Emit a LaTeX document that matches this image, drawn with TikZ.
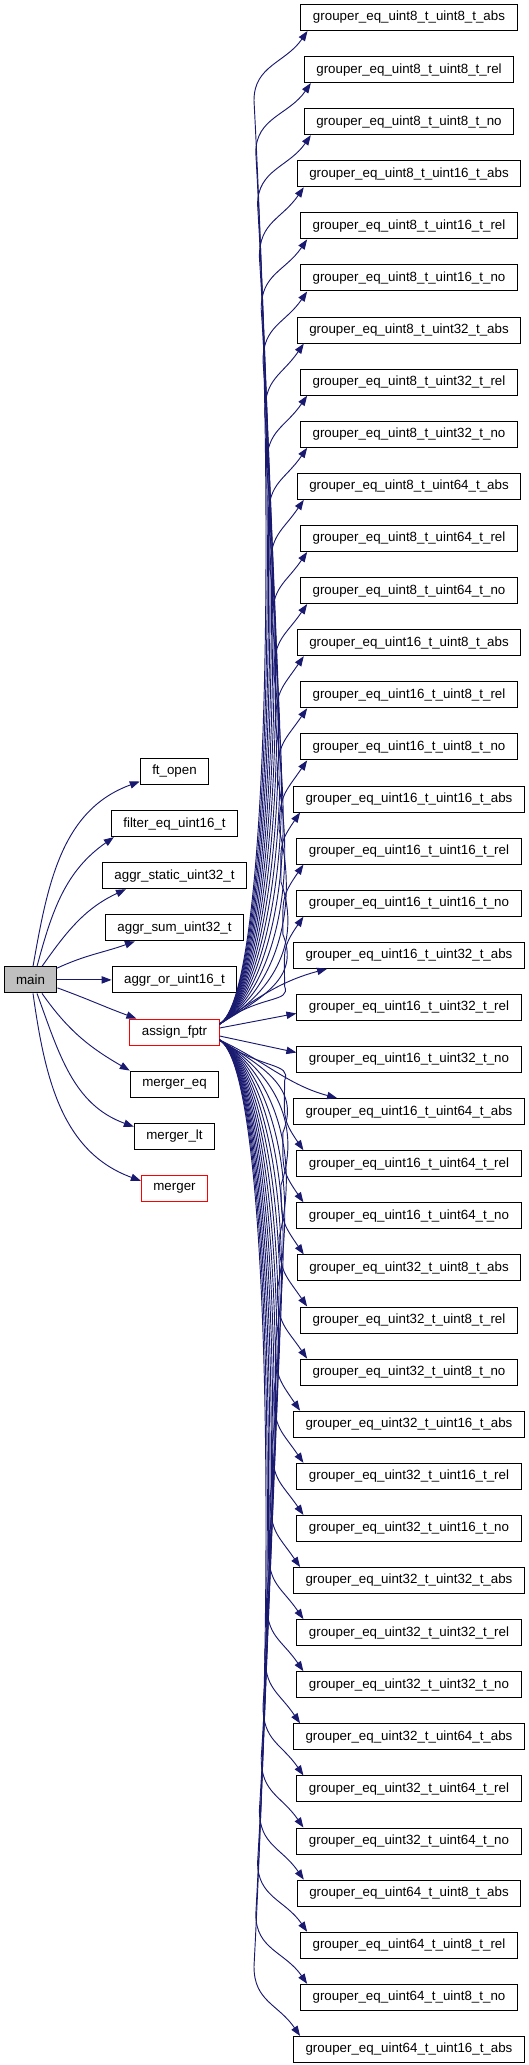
\documentclass[tikz,border=0pt]{standalone}
\usepackage{fontspec}
\setmainfont{Liberation Sans}
\usetikzlibrary{calc, arrows.meta}

\definecolor{edgeblue}{HTML}{191970}
\definecolor{mainfill}{HTML}{BFBFBF}
\tikzset{
    fn/.style={draw=black, line width=0.75pt, minimum height=19.5pt, inner xsep=9pt, inner ysep=0pt, font=\fontsize{10pt}{12pt}\selectfont},
    fnred/.style={fn, draw=red},
    call/.style={draw=edgeblue, line width=0.7pt, -{Triangle[length=7.5pt,width=5.5pt]}}
}

\begin{document}
\begin{tikzpicture}[x=0.75pt, y=0.75pt]
            \useasboundingbox (0,0) rectangle (528,-2065);
            % caller and its callees
            \node[fn, fill=mainfill] (main) at (30.5,-979.9) {main};
            \node[fn] (ftopen) at (174.5,-771.5) {ft\_open};
            \node[fn] (filter) at (174.5,-823.6) {filter\_eq\_uint16\_t};
            \node[fn] (aggrstatic) at (174.5,-875.7) {aggr\_static\_uint32\_t};
            \node[fn] (aggrsum) at (174.5,-927.8) {aggr\_sum\_uint32\_t};
            \node[fn] (aggror) at (174.5,-979.9) {aggr\_or\_uint16\_t};
            \node[fnred] (assign) at (174.5,-1032) {assign\_fptr};
            \node[fn] (mergereq) at (174.5,-1084.1) {merger\_eq};
            \node[fn] (mergerlt) at (174.5,-1136.2) {merger\_lt};
            \node[fnred] (merger) at (174.5,-1188.3) {merger};
            % groupers called from assign_fptr
            \foreach \nm [count=\i from 0] in {
                uint8\_t\_uint8\_t\_abs, uint8\_t\_uint8\_t\_rel, uint8\_t\_uint8\_t\_no,
                uint8\_t\_uint16\_t\_abs, uint8\_t\_uint16\_t\_rel, uint8\_t\_uint16\_t\_no,
                uint8\_t\_uint32\_t\_abs, uint8\_t\_uint32\_t\_rel, uint8\_t\_uint32\_t\_no,
                uint8\_t\_uint64\_t\_abs, uint8\_t\_uint64\_t\_rel, uint8\_t\_uint64\_t\_no,
                uint16\_t\_uint8\_t\_abs, uint16\_t\_uint8\_t\_rel, uint16\_t\_uint8\_t\_no,
                uint16\_t\_uint16\_t\_abs, uint16\_t\_uint16\_t\_rel, uint16\_t\_uint16\_t\_no,
                uint16\_t\_uint32\_t\_abs, uint16\_t\_uint32\_t\_rel, uint16\_t\_uint32\_t\_no,
                uint16\_t\_uint64\_t\_abs, uint16\_t\_uint64\_t\_rel, uint16\_t\_uint64\_t\_no,
                uint32\_t\_uint8\_t\_abs, uint32\_t\_uint8\_t\_rel, uint32\_t\_uint8\_t\_no,
                uint32\_t\_uint16\_t\_abs, uint32\_t\_uint16\_t\_rel, uint32\_t\_uint16\_t\_no,
                uint32\_t\_uint32\_t\_abs, uint32\_t\_uint32\_t\_rel, uint32\_t\_uint32\_t\_no,
                uint32\_t\_uint64\_t\_abs, uint32\_t\_uint64\_t\_rel, uint32\_t\_uint64\_t\_no,
                uint64\_t\_uint8\_t\_abs, uint64\_t\_uint8\_t\_rel, uint64\_t\_uint8\_t\_no,
                uint64\_t\_uint16\_t\_abs}
                \node[fn] (g\i) at (409,{-17.5-52.1*\i}) {grouper\_eq\_\nm};
            % calls from main
            \draw[call] ($(main.north)+(2.5,0)$) to[out=80,in=200] ($(ftopen.west)+(0,-10)$);
            \draw[call] ($(main.north)+(6.5,0)$) to[out=75,in=215] ($(filter.south west)+(3,0)$);
            \draw[call] ($(main.north)+(11.5,0)$) to[out=55,in=205] ($(aggrstatic.south west)+(24,0)$);
            \draw[call] ($(main.north east)+(-1,-2)$) to[out=25,in=200] ($(aggrsum.south west)+(30,0)$);
            \draw[call] (main.east) -- (aggror.west);
            \draw[call] ($(main.east)+(0,-8)$) to[out=-20,in=160] ($(assign.north west)+(7,0)$);
            \draw[call] ($(main.south)+(11.5,0)$) to[out=-55,in=150] (mergereq.north west);
            \draw[call] ($(main.south)+(6.5,0)$) to[out=-70,in=160] ($(mergerlt.north west)+(0,-4)$);
            \draw[call] ($(main.south)+(2.5,0)$) to[out=-82,in=160] ($(merger.north west)+(0,-6)$);
            % calls from assign_fptr, upwards
            \foreach \i in {0,...,17}{
                \pgfmathsetmacro\bx{254+1.8*\i}
                \pgfmathsetmacro\wy{-17.5-52.1*\i-13-70}
                \pgfmathsetmacro\ll{0.45*(\wy+1024)}
                \pgfmathsetmacro\dx{min(22,0.4*\ll)}
                \pgfmathsetmacro\cx{min(50,1.5*\ll+15)}
                \draw[call] ($(assign.east)+(0,8)$) .. controls +(\cx,30) and +(\dx,-\ll) .. (\bx,\wy)
                    .. controls +(0,35) and +(-22,-32) .. ($(g\i.south west)+(7,0)$);
            }
            \draw[call] ($(assign.east)+(0,8)$) to[out=35,in=195] ($(g18.south west)+(34,0)$);
            \draw[call] ($(assign.east)+(0,4)$) -- ($(g19.west)+(0,-6)$);
            \draw[call] ($(assign.east)+(0,-4)$) -- ($(g20.west)+(0,7)$);
            \draw[call] ($(assign.east)+(0,-8)$) to[out=-25,in=165] ($(g21.north west)+(44,0)$);
            % calls from assign_fptr, downwards
            \foreach \i in {22,...,39}{
                \pgfmathsetmacro\bx{254+1.8*(39-\i)}
                \pgfmathsetmacro\wy{-17.5-52.1*\i+13+70}
                \pgfmathsetmacro\ll{0.45*(-1040-\wy)}
                \pgfmathsetmacro\dx{min(22,0.4*\ll)}
                \pgfmathsetmacro\cx{min(50,1.5*\ll+15)}
                \draw[call] ($(assign.east)+(0,-8)$) .. controls +(\cx,-30) and +(\dx,\ll) .. (\bx,\wy)
                    .. controls +(0,-35) and +(-22,32) .. ($(g\i.north west)+(7,0)$);
            }
        \end{tikzpicture}
\end{document}
